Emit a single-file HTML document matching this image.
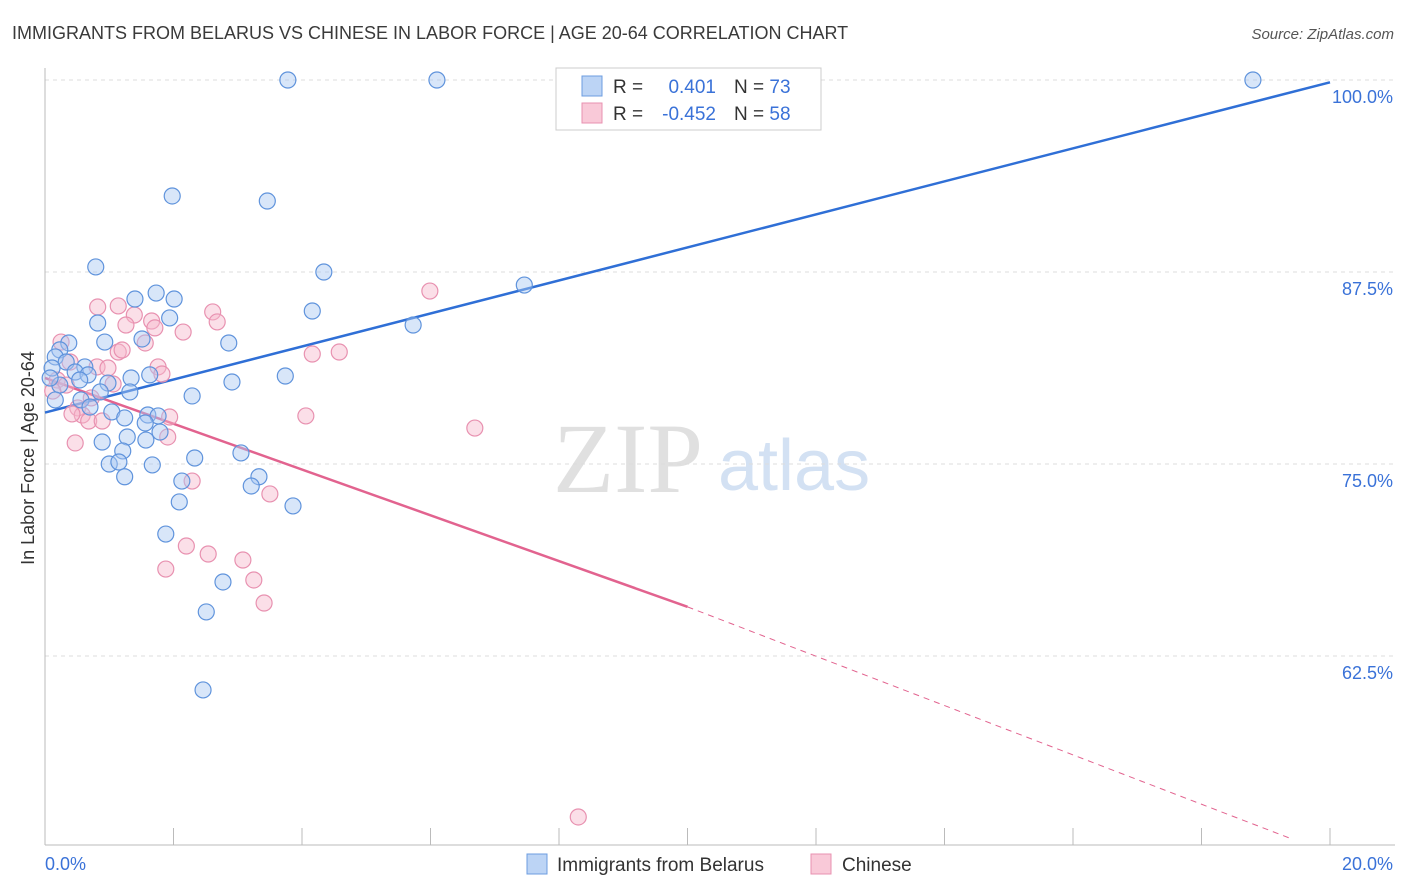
<!DOCTYPE html>
<html><head><meta charset="utf-8"><style>
body{margin:0;background:#fff;font-family:"Liberation Sans",sans-serif;}
svg{display:block}
</style></head><body>
<svg id="chart" width="1406" height="892">
<text x="12" y="39" font-size="18" fill="#3a3a3a">IMMIGRANTS FROM BELARUS VS CHINESE IN LABOR FORCE | AGE 20-64 CORRELATION CHART</text>
<text x="1394" y="39" font-size="15" fill="#555" font-style="italic" text-anchor="end">Source: ZipAtlas.com</text>
<text transform="translate(34,458) rotate(-90)" font-size="18" fill="#333" text-anchor="middle">In Labor Force | Age 20-64</text>
<text x="553" y="492" font-size="100" fill="#e0e0e0" font-family="Liberation Serif,serif">ZIP</text>
<text x="718" y="490" font-size="72" fill="#d3e1f3">atlas</text>
<g id="grid"></g><g id="axes"></g><g id="lines"></g><g id="pts"></g>
<g>
<rect x="556" y="68" width="265" height="62" fill="#fff" stroke="#ccc"/>
<rect x="582" y="76" width="20" height="20" fill="#bcd4f5" stroke="#6c9de0"/>
<rect x="582" y="103" width="20" height="20" fill="#f9c9d8" stroke="#e891b0"/>
<text x="613" y="93" font-size="19" fill="#333">R =</text>
<text x="716" y="93" font-size="19" fill="#3a72d8" text-anchor="end">0.401</text>
<text x="734" y="93" font-size="19" fill="#333">N = <tspan fill="#3a72d8">73</tspan></text>
<text x="613" y="120" font-size="19" fill="#333">R =</text>
<text x="716" y="120" font-size="19" fill="#3a72d8" text-anchor="end">-0.452</text>
<text x="734" y="120" font-size="19" fill="#333">N = <tspan fill="#3a72d8">58</tspan></text>
</g>
<g>
<rect x="527" y="854" width="20" height="20" fill="#bcd4f5" stroke="#6c9de0"/>
<text x="557" y="871" font-size="19" fill="#333">Immigrants from Belarus</text>
<rect x="811" y="854" width="20" height="20" fill="#f9c9d8" stroke="#e891b0"/>
<text x="842" y="871" font-size="19" fill="#333">Chinese</text>
</g>
</svg>
<script>
const yTicks=[100,87.5,75,62.5];
const yTickLabels=["100.0%","87.5%","75.0%","62.5%"];
const xTickLabels=["0.0%","20.0%"];
const blueX=[3.78,6.10,18.80,1.98,3.46,0.79,4.34,7.46,1.73,1.40,2.01,4.16,0.82,1.94,5.73,1.51,2.86,0.37,0.93,0.23,0.16,0.33,0.62,0.11,0.47,0.67,1.63,1.34,3.74,2.91,0.98,0.23,0.54,0.08,1.32,0.86,2.29,0.56,0.16,0.70,1.04,1.60,1.76,1.24,1.56,1.79,1.28,1.57,0.89,3.05,1.21,2.33,1.00,1.15,1.67,3.33,1.24,2.13,3.21,2.09,3.86,1.88,2.77,2.51,2.46];
const blueY=[100,100,100,92.45,92.12,87.83,87.5,86.65,86.13,85.74,85.74,84.96,84.18,84.51,84.05,83.14,82.88,82.88,82.94,82.43,81.97,81.64,81.32,81.25,80.99,80.80,80.80,80.60,80.73,80.34,80.27,80.14,80.47,80.60,79.69,79.69,79.43,79.17,79.17,78.71,78.39,78.19,78.13,78.00,77.67,77.08,76.76,76.56,76.43,75.72,75.85,75.39,75.00,75.13,74.94,74.17,74.17,73.89,73.57,72.53,72.27,70.44,67.32,65.37,60.29];
const pinkX=[0.82,1.14,2.61,1.39,5.99,1.66,1.26,2.68,2.15,1.71,0.25,1.56,1.14,1.20,4.16,4.58,0.39,0.81,1.76,1.82,0.98,0.19,0.33,0.12,1.06,0.72,0.51,0.58,0.42,0.68,1.94,4.06,0.89,1.91,0.47,6.69,2.29,3.50,2.20,2.54,3.08,1.88,3.25,3.41,8.30];
const pinkY=[85.22,85.29,84.90,84.70,86.26,84.31,84.05,84.25,83.59,83.86,82.94,82.88,82.29,82.42,82.16,82.29,81.64,81.32,81.32,80.86,81.25,80.47,80.14,79.75,80.21,79.30,78.65,78.19,78.26,77.80,78.06,78.13,77.80,76.76,76.37,77.34,73.89,73.05,69.66,69.14,68.75,68.16,67.45,65.95,52.02];
const blueTrend=[[0,78.35],[20,99.85]];
const pinkTrend=[[0,80.6],[10,65.7],[19.4,50.6]];
const NS="http://www.w3.org/2000/svg";
const X=v=>45+v*64.25, Y=v=>80+(100-v)*15.36;
function mk(tag,a,p){const e=document.createElementNS(NS,tag);for(const k in a)e.setAttribute(k,a[k]);p.appendChild(e);return e;}
const grid=document.getElementById('grid'),axes=document.getElementById('axes'),lines=document.getElementById('lines'),pts=document.getElementById('pts');
yTicks.forEach((t,i)=>{
 const l=mk('line',{x1:45,x2:1395,y1:Y(t),y2:Y(t),stroke:'#ddd','stroke-dasharray':'4,4'},grid);
 
 
 const tx=mk('text',{x:1393,y:Y(t)+23,'font-size':18,fill:'#3a72d8','text-anchor':'end'},axes);
 tx.textContent=yTickLabels[i];
 
 
});
mk('line',{x1:45,x2:45,y1:68,y2:845,stroke:'#bbb'},axes);
mk('line',{x1:45,x2:1395,y1:845,y2:845,stroke:'#bbb'},axes);
for(let i=0;i<=10;i++){mk('line',{x1:X(i*2),x2:X(i*2),y1:828,y2:845,stroke:'#bbb'},axes);}
const xl0=mk('text',{x:45,y:870,'font-size':18,fill:'#3a72d8'},axes);xl0.textContent=xTickLabels[0];


const xl1=mk('text',{x:1393,y:870,'font-size':18,fill:'#3a72d8','text-anchor':'end'},axes);xl1.textContent=xTickLabels[1];


function dot(x,y,f,s,n){const c=mk('circle',{cx:X(x),cy:Y(y),r:8,fill:f,'fill-opacity':0.45,stroke:s,'stroke-width':1.2},pts);
 
 }
pinkX.forEach((x,i)=>dot(x,pinkY[i],'#f6b8cc','#e891b0','point-chinese'));
blueX.forEach((x,i)=>dot(x,blueY[i],'#a9c8f2','#5f93dc','point-belarus'));
const bl=mk('line',{x1:X(blueTrend[0][0]),y1:Y(blueTrend[0][1]),x2:X(blueTrend[1][0]),y2:Y(blueTrend[1][1]),stroke:'#2f6fd6','stroke-width':2.5},lines);


const pl=mk('line',{x1:X(pinkTrend[0][0]),y1:Y(pinkTrend[0][1]),x2:X(pinkTrend[1][0]),y2:Y(pinkTrend[1][1]),stroke:'#e2638f','stroke-width':2.5},lines);


const pd=mk('line',{x1:X(pinkTrend[1][0]),y1:Y(pinkTrend[1][1]),x2:X(pinkTrend[2][0]),y2:Y(pinkTrend[2][1]),stroke:'#e2638f','stroke-width':1,'stroke-dasharray':'6,5'},lines);


</script>
</body></html>
